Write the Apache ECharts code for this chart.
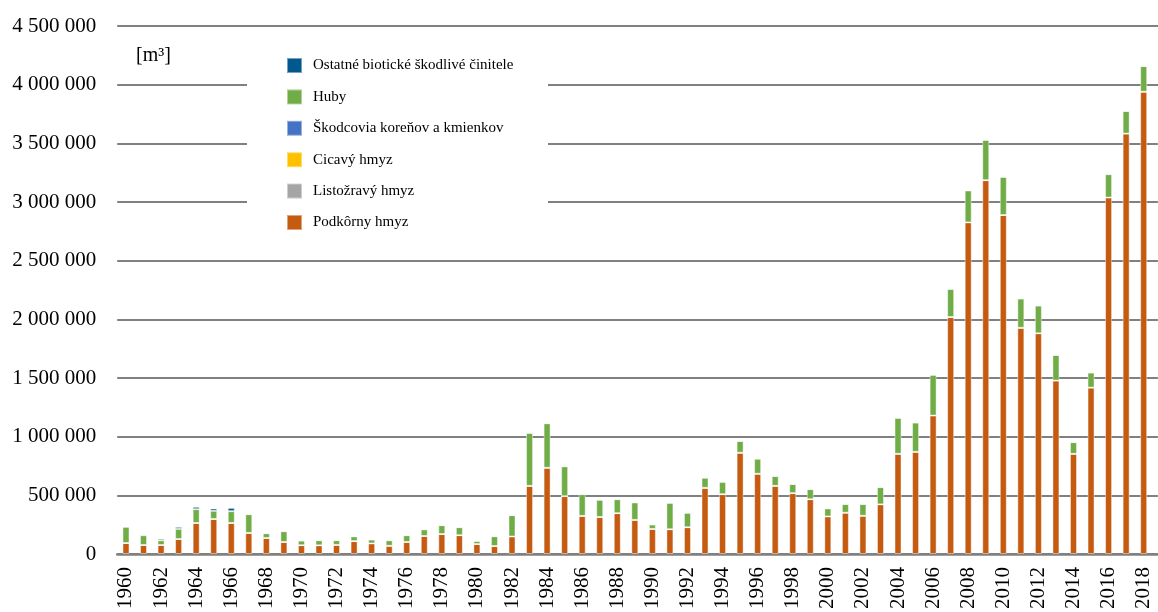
<!DOCTYPE html>
<html>
<head>
<meta charset="utf-8">
<script src="https://cdn.jsdelivr.net/npm/echarts@6/dist/echarts.min.js"></script>
<style>
  html, body { margin: 0; padding: 0; background: #fff; overflow: hidden; }
  /* a bit wider than the window: the last bar (2019) is cut at the edge */
  #chart { width: 1170px; height: 612px; }
</style>
</head>
<body>
<div id="chart"></div>
<script>
// years shown (2019 is cut at the right edge of the picture)
var years = [];
for (var y = 1960; y <= 2019; y++) years.push(String(y));

// values in m3
var podkorny = [
  94000, 77000, 77000, 128000, 265000, 299000, 265000, 180000, 137000, 103000,
  75000, 74000, 78000, 110000, 90000, 70000, 103000, 154000, 170000, 160000,
  85000, 68000, 149000, 581000, 735000, 493000, 325000, 316000, 348000, 291000,
  214000, 211000, 228000, 564000, 510000, 863000, 684000, 581000, 519000, 467000,
  320000, 352000, 326000, 423000, 854000, 871000, 1180000, 2020000, 2826000, 3186000,
  2889000, 1928000, 1881000, 1478000, 854000, 1418000, 3038000, 3583000, 3940000, 3506000
];
var huby = [
  137000, 83000, 40000, 86000, 117000, 69000, 100000, 159000, 40000, 91000,
  39000, 43000, 39000, 40000, 33000, 47000, 57000, 56000, 75000, 68000,
  26000, 83000, 182000, 451000, 379000, 254000, 185000, 146000, 119000, 148000,
  37000, 225000, 123000, 86000, 105000, 100000, 128000, 83000, 77000, 86000,
  68000, 74000, 100000, 147000, 306000, 249000, 347000, 239000, 272000, 343000,
  325000, 249000, 236000, 218000, 99000, 128000, 199000, 192000, 218000, 179000
];
var ostatne = [
  8000, 8000, 14000, 17000, 20000, 20000, 28000, 0, 0, 0,
  0, 0, 0, 0, 0, 0, 0, 0, 0, 0,
  0, 0, 0, 0, 0, 0, 0, 0, 0, 0,
  0, 0, 0, 0, 0, 0, 0, 0, 0, 0,
  0, 0, 0, 0, 0, 0, 0, 0, 0, 0,
  0, 0, 0, 0, 0, 0, 0, 0, 0, 0
];
// too small to be seen in the picture
var skodcovia = years.map(function () { return 0; });
var cicavy = years.map(function () { return 0; });
var listozravy = years.map(function () { return 0; });

var yTicks = { min: 0, max: 4500000, step: 500000 };

var serif = "'Liberation Serif', 'Times New Roman', serif";

function makeSeries(name, data, color) {
  return {
    name: name,
    type: "bar",
    stack: "total",
    barWidth: 7,
    data: data,
    itemStyle: {
      color: color,
      borderColor: "rgba(255,255,255,0.45)",
      borderWidth: 1
    }
  };
}

var chart = echarts.init(document.getElementById("chart"));

var option = {
  animation: false,
  backgroundColor: "#fff",
  grid: {
    left: 117.2,
    top: 26,
    bottom: 58,
    right: 0
  },
  legend: {
    orient: "vertical",
    left: 286,
    top: 57,
    padding: 0,
    itemWidth: 15,
    itemHeight: 15,
    itemGap: 14.4,
    icon: "rect",
    selectedMode: false,
    textStyle: {
      fontFamily: serif,
      fontSize: 15,
      lineHeight: 15,
      color: "#000",
      padding: [0, 0, 0, 6]
    },
    data: [
      "Ostatné biotické škodlivé činitele",
      "Huby",
      "Škodcovia koreňov a kmienkov",
      "Cicavý hmyz",
      "Listožravý hmyz",
      "Podkôrny hmyz"
    ]
  },
  graphic: [
    {
      type: "rect",
      z: 1,
      shape: { x: 247, y: 40, width: 301, height: 195 },
      style: { fill: "#fff" }
    },
    {
      type: "text",
      z: 5,
      x: 136,
      y: 46,
      style: {
        text: "[m³]",
        font: "20px " + serif,
        fill: "#000"
      }
    }
  ],
  xAxis: {
    type: "category",
    data: years,
    axisTick: { show: false },
    axisLine: { lineStyle: { color: "#808080", width: 2.5 } },
    axisLabel: {
      interval: 1,
      rotate: 90,
      margin: 13,
      fontFamily: serif,
      fontSize: 21,
      color: "#000"
    }
  },
  yAxis: {
    type: "value",
    min: yTicks.min,
    max: yTicks.max,
    interval: yTicks.step,
    axisLine: { show: false },
    axisTick: { show: false },
    splitLine: { lineStyle: { color: "#808080", width: 2 } },
    axisLabel: {
      margin: 21,
      fontFamily: serif,
      fontSize: 21,
      color: "#000",
      formatter: function (v) {
        return String(v).replace(/\B(?=(\d{3})+(?!\d))/g, " ");
      }
    }
  },
  series: [
    makeSeries("Podkôrny hmyz", podkorny, "#C55A11"),
    makeSeries("Listožravý hmyz", listozravy, "#A5A5A5"),
    makeSeries("Cicavý hmyz", cicavy, "#FFC000"),
    makeSeries("Škodcovia koreňov a kmienkov", skodcovia, "#4472C4"),
    makeSeries("Huby", huby, "#70AD47"),
    makeSeries("Ostatné biotické škodlivé činitele", ostatne, "#00588E")
  ]
};

chart.setOption(option);
</script>
</body>
</html>
